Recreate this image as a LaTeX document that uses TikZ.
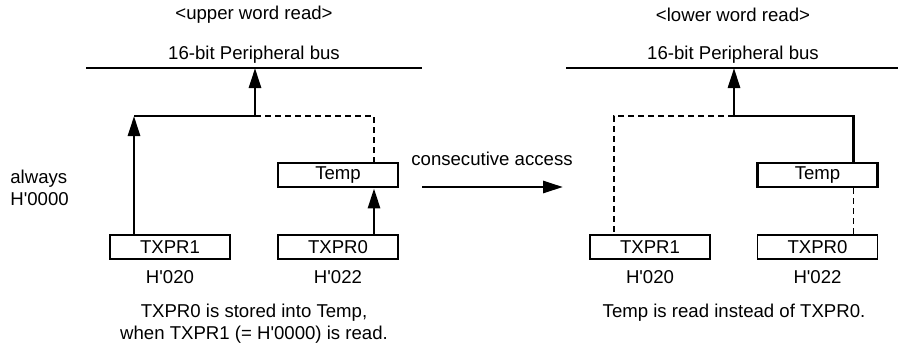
\documentclass[tikz,border=0pt]{standalone}
\usepackage{fontspec}
\setmainfont{Liberation Sans}
\usetikzlibrary{arrows.meta, positioning, calc}
\newcommand{\hexval}[1]{H\textquotesingle#1}
\tikzset{
  line/.style={-{Triangle[length=10pt,width=6pt]}, line width=1.4pt},
  wire/.style={line width=1.4pt},
  ghost/.style={dash pattern=on 3pt off 2pt, line width=0.6pt},
  bus/.style={line width=1.3pt},
  register/.style={
    rectangle,
    draw,
    line width=0.6pt,
    minimum width=60pt,
    minimum height=12pt,
    inner sep=0pt
  },
  buffer/.style={register, line width=1.4pt},
  note/.style={align=center, inner sep=0pt}
}

\begin{document}
\begin{tikzpicture}[x=0.5pt, y=-0.5pt, font=\fontsize{9.3}{11}\selectfont]
\useasboundingbox (0,0) rectangle (898,344);

% upper word read
\node[note] (titleL) at (254,15) {<upper word read>};
\node[note] (busTextL) at (254,55) {16-bit Peripheral bus};
\coordinate (busLa) at (86,68);
\coordinate (busLb) at (422,68);
\coordinate (tapL) at (255,116);

\node[register] (hiL) at (170,247) {TXPR1};
\node[register] (loL) at (338,247) {TXPR0};
\node[buffer] (tempL) at (338,175) {Temp};
\node[below=2pt of hiL] (addrHiL) {\hexval{020}};
\node[below=2pt of loL] (addrLoL) {\hexval{022}};
\node[note, anchor=west, align=left] (zero) at (10,188) {always\\ \hexval{0000}};
\node[note] (noteL) at (254,324) {TXPR0 is stored into Temp,\\ when TXPR1 (= \hexval{0000}) is read.};

\draw[bus] (busLa) -- (busLb);
\draw[line] ([xshift=-18pt]hiL.north) -- ([xshift=-18pt]hiL.north |- tapL);
\draw[wire] ([xshift=-18pt]hiL.north |- tapL) -- (tapL);
\draw[line] (tapL) -- (tapL |- busLa);
\draw[ghost] (tapL) -| ([xshift=18pt]tempL.north);
\draw[line] ([xshift=18pt]loL.north) -- ([xshift=18pt]tempL.south);

% consecutive access
\coordinate (accFrom) at (422,187);
\coordinate (accTo) at (563,187);
\node[note] (accText) at (492,159) {consecutive access};
\draw[line] (accFrom) -- (accTo);

% lower word read
\node[note] (titleR) at (733,15) {<lower word read>};
\node[note] (busTextR) at (733,55) {16-bit Peripheral bus};
\coordinate (busRa) at (566,68);
\coordinate (busRb) at (898,68);
\coordinate (tapR) at (734,116);

\node[register] (hiR) at (650,247) {TXPR1};
\node[register] (loR) at (817.5,247) {TXPR0};
\node[buffer] (tempR) at (817.5,175) {Temp};
\node[below=2pt of hiR] (addrHiR) {\hexval{020}};
\node[below=2pt of loR] (addrLoR) {\hexval{022}};
\node[note] (noteR) at (734,313) {Temp is read instead of TXPR0.};

\draw[bus] (busRa) -- (busRb);
\draw[line] (tapR) -- (tapR |- busRa);
\draw[ghost] (tapR) -| ([xshift=-18pt]hiR.north);
\draw[wire] (tapR) -| ([xshift=18pt]tempR.north);
\draw[ghost] ([xshift=18pt]tempR.south) -- ([xshift=18pt]loR.north);

\end{tikzpicture}
\end{document}
